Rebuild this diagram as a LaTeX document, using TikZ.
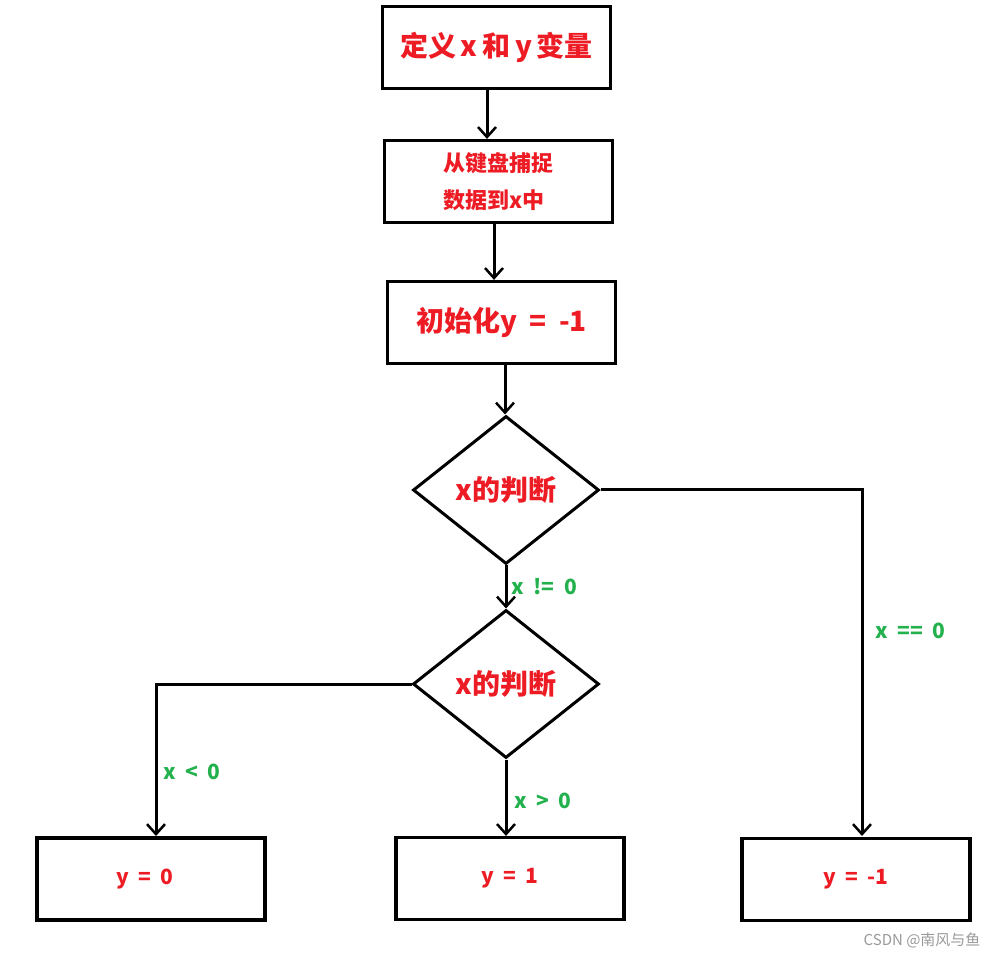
\documentclass[tikz,border=0pt]{standalone}
\usepackage{fontspec}
\usetikzlibrary{shapes.geometric,arrows.meta}
\newfontfamily\cjk{Noto Sans CJK SC}
\definecolor{pred}{RGB}{237,28,36}
\definecolor{pgreen}{RGB}{34,177,76}
\newcommand{\wsp}{\hspace{0.45em}}
\begin{document}
\begin{tikzpicture}[x=1pt,y=-1pt,
  box/.style={draw,line width=3.2pt,minimum width=228pt,minimum height=82pt,inner sep=0pt,text=pred},
  dia/.style={draw,diamond,line width=3pt,minimum width=186pt,minimum height=148pt,inner sep=0pt,text=pred,font=\cjk\bfseries\fontsize{28}{30}\selectfont},
  arr/.style={line width=3pt,-{Straight Barb[length=10pt,width=18pt,line width=2.5pt]}},
  lbl/.style={text=pgreen,anchor=west,font=\cjk\bfseries\fontsize{21}{24}\selectfont},
  big/.style={font=\cjk\bfseries\fontsize{28}{30}\selectfont},
  small/.style={font=\cjk\bfseries\fontsize{21}{24}\selectfont}
]
\useasboundingbox (0,0) rectangle (997,957);
\node[box,big] (b1) at (496.5,47.5) {定义\,x\,和\,y\,变量};
\node[box,align=left,font=\cjk\bfseries\fontsize{22}{37}\selectfont] (b2) at (498.5,181.5) {从键盘捕捉\\数据到x中\hspace{1.4em}};
\node[box,big] (b3) at (501.5,322.5) {初始化y\wsp=\wsp-1};
\node[dia] (d1) at (506,490) {x的判断};
\node[dia] (d2) at (506,684) {x的判断};
\node[box,small] (ra) at (151,879) {\hspace{-12pt}y\wsp=\wsp0};
\node[box,small] (rb) at (510,878.5) {\raisebox{5pt}{y\wsp=\wsp1}\hspace{24pt}};
\node[box,small] (rc) at (856,879.5) {y\wsp=\wsp-1};

\coordinate (a1) at (487,90);
\coordinate (a2) at (494,224);
\coordinate (a3) at (505,365);
\draw[arr] (a1) -- (a1 |- b2.north);
\draw[arr] (a2) -- (a2 |- b3.north);
\draw[arr] (a3) -- (a3 |- d1.north);
\draw[arr] (d1.south) -- (d2.north);
\coordinate (rcx) at (862,836);
\coordinate (rax) at (156,836);
\draw[arr] (d1.east) -| (rcx);
\draw[arr] (d2.west) -| (rax);
\draw[arr] (d2.south) -- (d2.south |- rb.north);

\node[lbl] (l1) at (508,587) {x\wsp!=\wsp0};
\node[lbl] (l2) at (872,631) {x\wsp==\wsp0};
\node[lbl] (l3) at (160,772) {x\wsp<\wsp0};
\node[lbl] (l4) at (511,801) {x\wsp>\wsp0};
\node[anchor=east,text=black!40,font=\cjk\fontsize{15}{17}\selectfont] (wm) at (984,940) {CSDN @南风与鱼};
\end{tikzpicture}
\end{document}
